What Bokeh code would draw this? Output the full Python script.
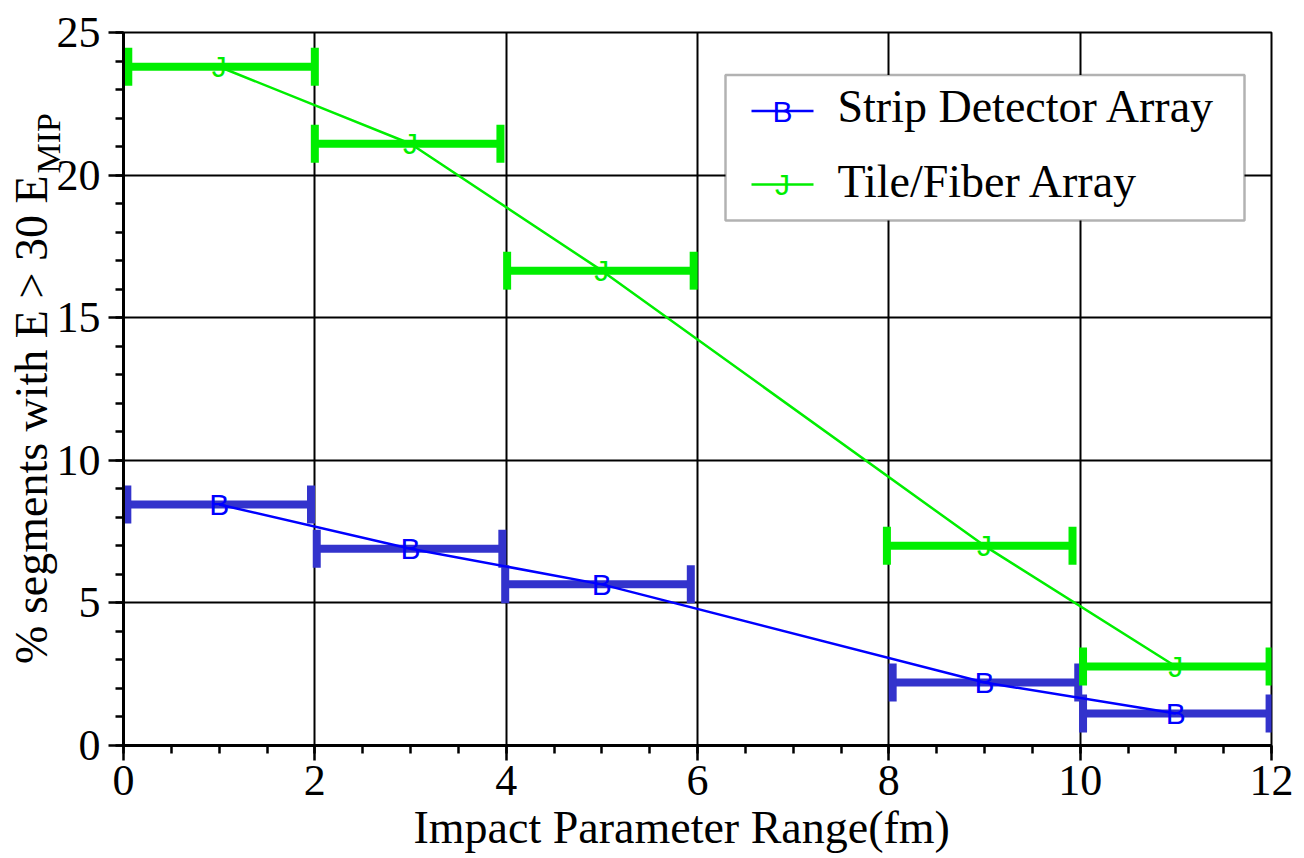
from bokeh.plotting import figure
from bokeh.models import (Range1d, SingleIntervalTicker, ColumnDataSource, Whisker, TeeHead,
                          Label, BoxAnnotation, Arrow, Title)
from bokeh.core.properties import value
from bokeh.embed import file_html
from bokeh.resources import INLINE

# ---------------- data ----------------
x_center = [1, 3, 5, 9, 11]

strip_y = [8.45, 6.9, 5.65, 2.21, 1.12]
strip_xlo = [0.04, 2.02, 3.99, 8.04, 10.03]
strip_xhi = [1.96, 3.96, 5.93, 9.98, 11.98]

tile_y = [23.8, 21.1, 16.65, 7.0, 2.77]
tile_xlo = [0.05, 2.0, 4.01, 7.98, 10.03]
tile_xhi = [2.0, 3.94, 5.96, 9.92, 11.98]

series_names = ["Strip Detector Array", "Tile/Fiber Array"]
series_symbols = ["B", "J"]
x_title = "Impact Parameter Range(fm)"
y_title_main = "% segments with E > 30 E"
y_title_sub = "MIP"

# ---------------- style ----------------
SERIF = "Liberation Serif"
SANS = "Liberation Sans"
BLUE_LINE = "#0000ff"
BLUE_BAR = "#3333cc"
GREEN_LINE = "#00ee00"
GREEN_BAR = "#00ee00"

p = figure(width=1304, height=858, output_backend="svg", toolbar_location=None,
           x_range=Range1d(0, 12), y_range=Range1d(0, 25),
           min_border_left=123, min_border_right=33, min_border_top=32, min_border_bottom=113)
p.background_fill_color = "white"
p.border_fill_color = "white"
p.outline_line_color = "black"
p.outline_line_width = 2

p.xaxis.ticker = SingleIntervalTicker(interval=2, num_minor_ticks=4)
p.yaxis.ticker = SingleIntervalTicker(interval=5, num_minor_ticks=5)

for ax in (p.xaxis[0], p.yaxis[0]):
    ax.axis_line_color = "black"
    ax.axis_line_width = 3
    ax.major_tick_line_color = "black"
    ax.major_tick_line_width = 2.5
    ax.major_tick_in = 0
    ax.major_tick_out = 15
    ax.minor_tick_line_color = "black"
    ax.minor_tick_line_width = 2.5
    ax.minor_tick_in = 0
    ax.minor_tick_out = 8
    ax.major_label_text_font = SERIF
    ax.major_label_text_font_size = "44px"
    ax.major_label_text_color = "black"
p.xaxis.major_label_standoff = 5
p.yaxis.major_label_standoff = 8

p.xgrid.ticker = p.xaxis[0].ticker
p.ygrid.ticker = p.yaxis[0].ticker
for g in (p.xgrid[0], p.ygrid[0]):
    g.grid_line_color = "black"
    g.grid_line_width = 2
    g.grid_line_alpha = 1

strip_src = ColumnDataSource(dict(x=x_center, y=strip_y, lo=strip_xlo, hi=strip_xhi,
                                  t=[series_symbols[0]] * len(x_center)))
tile_src = ColumnDataSource(dict(x=x_center, y=tile_y, lo=tile_xlo, hi=tile_xhi,
                                 t=[series_symbols[1]] * len(x_center)))

p.line("x", "y", source=strip_src, line_color=BLUE_LINE, line_width=2.5)
p.line("x", "y", source=tile_src, line_color=GREEN_LINE, line_width=2.5)

for src, col in ((strip_src, BLUE_BAR), (tile_src, GREEN_BAR)):
    w = Whisker(source=src, base="y", lower="lo", upper="hi", dimension="width",
                line_color=col, line_width=8,
                lower_head=TeeHead(size=38, line_color=col, line_width=8),
                upper_head=TeeHead(size=38, line_color=col, line_width=8))
    p.add_layout(w)

p.text("x", "y", text="t", source=strip_src, text_color=BLUE_LINE, text_font=value(SANS),
       text_font_size="30px", text_align="center", text_baseline="middle")
p.text("x", "y", text="t", source=tile_src, text_color=GREEN_LINE, text_font=value(SANS),
       text_font_size="30px", text_align="center", text_baseline="middle")


# legend (manual; given as pixel positions of the frame: box 725..1244 x 74.5..220)
def dx(px):
    return (px - 123) / (1148 / 12)


def dy(py):
    return (745 - py) / (713 / 25)


p.add_layout(BoxAnnotation(left=dx(725), right=dx(1244), top=dy(74.5), bottom=dy(220),
                           fill_color="white", fill_alpha=1, line_color="black", line_width=2.5,
                           level="annotation"))
rows_y = [110.6, 184]
text_y = [106, 180.5]
for name, sym, col, ry, ty in zip(series_names, series_symbols, [BLUE_LINE, GREEN_LINE], rows_y, text_y):
    p.add_layout(Arrow(x_start=dx(751), y_start=dy(ry), x_end=dx(813), y_end=dy(ry), end=None,
                       line_color=col, line_width=2.5))
    p.add_layout(Label(x=dx(782), y=dy(ry), text=sym, text_font=SANS, text_font_size="30px",
                       text_align="center", text_baseline="middle", text_color=col))
    p.add_layout(Label(x=dx(837), y=dy(ty), text=name, text_font=SERIF, text_font_size="46px",
                       text_align="left", text_baseline="middle", text_color="black"))

# ---------------- axis titles as side-panel titles ----------------
# subscript (nearest the y axis), then the main y title further out
p.add_layout(Title(text=y_title_sub, align="left", offset=745 - 173, vertical_align="bottom",
                   standoff=-27, text_font=SERIF, text_font_size="34px",
                   text_font_style="normal", text_color="black"), "left")
p.add_layout(Title(text=y_title_main, align="right", offset=175 - 32, vertical_align="bottom",
                   standoff=-30, text_font=SERIF, text_font_size="46px",
                   text_font_style="normal", text_color="black"), "left")
p.add_layout(Title(text=x_title, align="left", offset=413 - 123, vertical_align="bottom",
                   standoff=4, text_font=SERIF, text_font_size="46px",
                   text_font_style="normal", text_color="black"), "below")

open("out.html", "w").write(file_html(p, INLINE))
